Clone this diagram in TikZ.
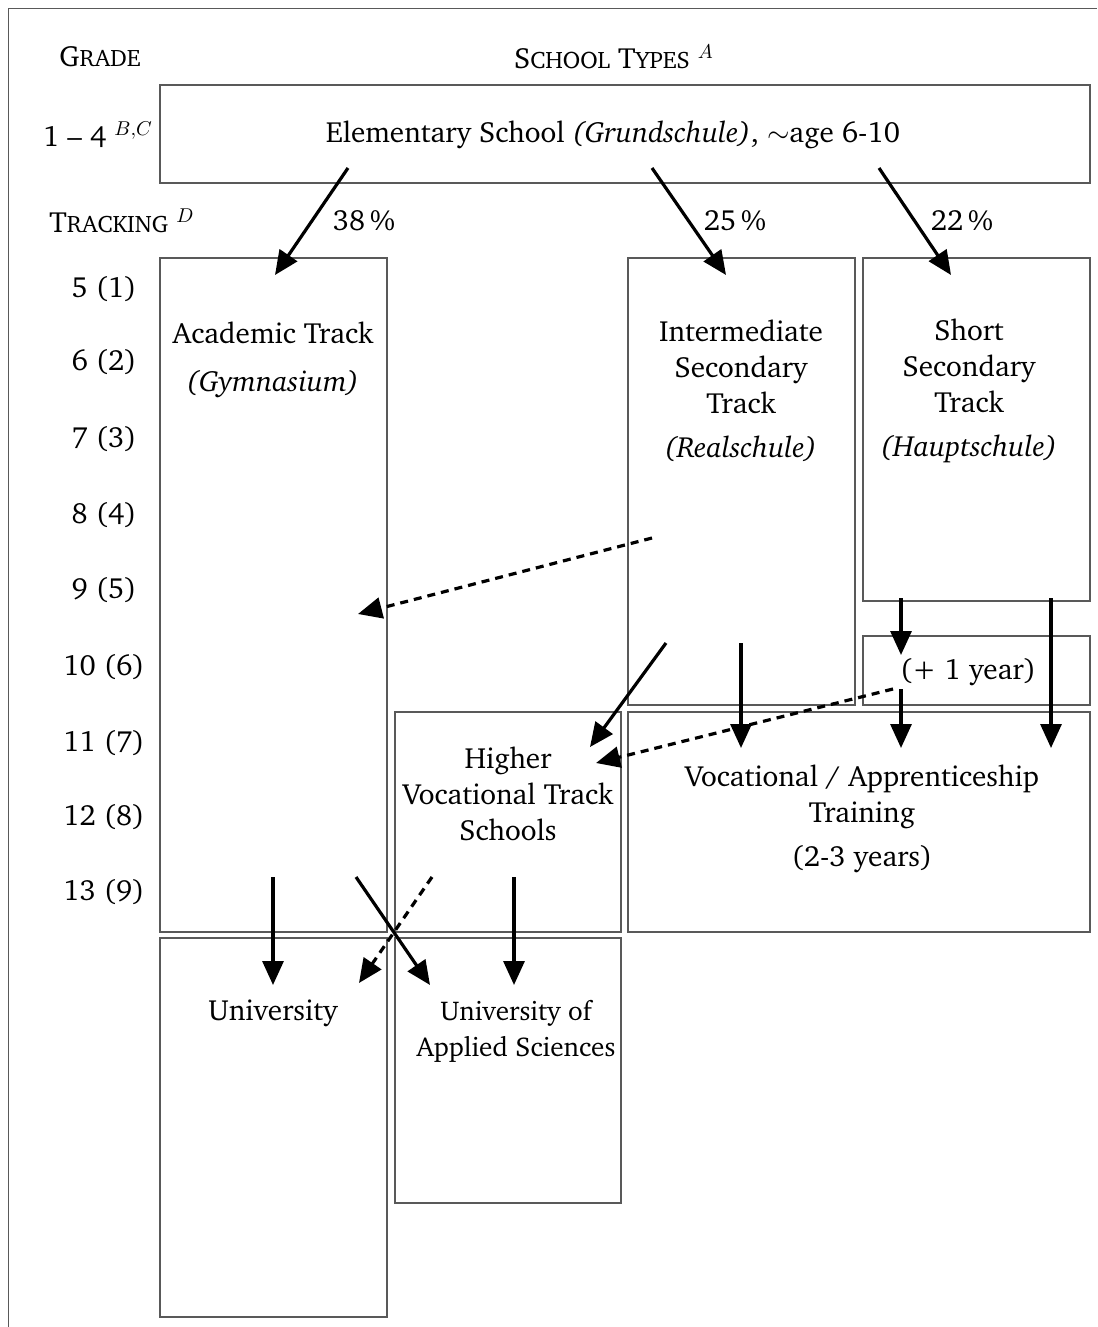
\documentclass[tikz,border=0pt]{standalone}
\IfFileExists{charter.sty}{\usepackage[T1]{fontenc}\usepackage{charter}}{\usepackage{fontspec}\setmainfont{Liberation Serif}}
\usetikzlibrary{arrows.meta,fit}
\newcommand{\fsc}[2]{#1{\fontsize{11.9}{12}\selectfont #2}}
\tikzset{
  x=0.5pt, y=-0.5pt,
  box/.style={draw=black!65, line width=0.7pt, inner sep=0pt, rectangle},
  txt/.style={align=center, inner sep=0pt, font=\fontsize{14.6}{18}\selectfont},
  arr/.style={-{Triangle[length=12pt,width=10.5pt]}, line width=1.6pt},
  darr/.style={arr, dash pattern=on 4pt off 3pt},
  frame/.style={draw=black!65, line width=0.6pt}
}
\begin{document}
\begin{tikzpicture}
\useasboundingbox (0,0) rectangle (1097,1327);
% outer frame
\coordinate (fbl) at (8.5,1327);
\coordinate (ftl) at (8.5,8.5);
\coordinate (ftr) at (1097,8.5);
\draw[frame] (fbl) -- (ftl) -- (ftr);

% headers
\node[txt] (hgrade) at (100,57) {\fsc{G}{RADE}};
\node[txt] (htypes) at (614,57) {\fsc{S}{CHOOL} \fsc{T}{YPES} $^{A}$};
\node[txt] (h14) at (98,135) {1 -- 4 $^{B,C}$};
\node[txt] (htrack) at (122,221) {\fsc{T}{RACKING} $^{D}$};

% boxes
\node[box, fit={(160,85)(1090,183)}] (elem) {};
\node[box, fit={(160,258)(387,932)}] (gym) {};
\node[box, fit={(628,258)(855,705)}] (real) {};
\node[box, fit={(863,258)(1090,601)}] (haupt) {};
\node[box, fit={(863,636)(1090,705)}] (plus) {};
\node[box, fit={(395,712)(621,932)}] (hvoc) {};
\node[box, fit={(628,712)(1090,932)}] (voc) {};
\node[box, fit={(160,938)(387,1317)}] (uni) {};
\node[box, fit={(395,938)(621,1203)}] (fh) {};

% box texts
\node[txt] (telem) at (613,135) {Elementary School \textit{(Grundschule)}, $\sim$age 6-10};
\node[txt] (tgym) at (273,360) {Academic Track\\[6pt]\textit{(Gymnasium)}};
\node[txt] (treal) at (741,391) {Intermediate\\Secondary\\Track\\[4pt]\textit{(Realschule)}};
\node[txt] (thaupt) at (969,391) {Short\\Secondary\\Track\\[4pt]\textit{(Hauptschule)}};
\node[txt] (tplus) at (968,672) {(+ 1 year)};
\node[txt] (thvoc) at (508,794) {Higher\\Vocational Track\\Schools};
\node[txt] (tvoc) at (862,819) {Vocational / Apprenticeship\\Training\\[4pt](2-3 years)};
\node[txt] (tuni) at (273,1013) {University};
\node[txt, font=\fontsize{13.6}{18}\selectfont] (tfh) at (516,1031) {University of\\Applied Sciences};

% grade labels
\foreach \g/\yy in {5 (1)/289, 6 (2)/362, 7 (3)/439, 8 (4)/515, 9 (5)/590, 10 (6)/667, 11 (7)/743, 12 (8)/817, 13 (9)/892}
  \node[txt] at (104,\yy) {\g};

% percentages
\node[txt] (p38) at (364,221) {38\,\%};
\node[txt] (p25) at (735,221) {25\,\%};
\node[txt] (p22) at (962,221) {22\,\%};

% arrow coordinates
\coordinate (e1) at (348,168); \coordinate (g1) at (275,275);
\coordinate (e2) at (652,168); \coordinate (r1) at (726,275);
\coordinate (e3) at (879,168); \coordinate (h1) at (951,275);
\coordinate (r2) at (652,538); \coordinate (g2) at (358,614);
\coordinate (r3) at (666,643); \coordinate (hv1) at (590,747);
\coordinate (r4) at (741,643); \coordinate (v1) at (741,748);
\coordinate (h2) at (901,598); \coordinate (p1) at (901,655);
\coordinate (p2) at (901,689); \coordinate (v2) at (901,748);
\coordinate (h3) at (1051,598); \coordinate (v3) at (1051,748);
\coordinate (p3) at (893,689); \coordinate (hv2) at (596,763);
\coordinate (g3) at (273,877); \coordinate (u1) at (273,985);
\coordinate (g4) at (356,877); \coordinate (f1) at (430,985);
\coordinate (hv3) at (432,877); \coordinate (u2) at (359,983);
\coordinate (hv4) at (514,877); \coordinate (f2) at (514,985);

% arrows
\draw[arr] (e1) -- (g1);
\draw[arr] (e2) -- (r1);
\draw[arr] (e3) -- (h1);
\draw[darr] (r2) -- (g2);
\draw[arr] (r3) -- (hv1);
\draw[arr] (r4) -- (v1);
\draw[arr] (h2) -- (p1);
\draw[arr] (p2) -- (v2);
\draw[arr] (h3) -- (v3);
\draw[darr] (p3) -- (hv2);
\draw[arr] (g3) -- (u1);
\draw[arr] (g4) -- (f1);
\draw[darr] (hv3) -- (u2);
\draw[arr] (hv4) -- (f2);
\end{tikzpicture}
\end{document}
